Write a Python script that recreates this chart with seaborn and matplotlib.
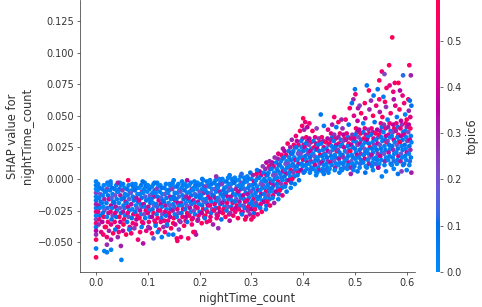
import numpy as np
import pandas as pd
import matplotlib
matplotlib.use("Agg")
import matplotlib.pyplot as plt
import seaborn as sns
from matplotlib.colors import LinearSegmentedColormap, Normalize
from matplotlib.cm import ScalarMappable

# ---------------- data ----------------
count_ticks = [0.0, 0.1, 0.2, 0.3, 0.4, 0.5, 0.6]
shap_ticks = [-0.05, -0.025, 0.0, 0.025, 0.05, 0.075, 0.1, 0.125]
topic_ticks = [0.0, 0.1, 0.2, 0.3, 0.4, 0.5]
topic_range = [0.0, 0.588]

# points sitting exactly at nightTime_count = 0
zero_count = [0, 0, 0, 0, 0, 0, 0, 0, 0, 0, 0, 0, 0, 0, 0, 0, 0, 0]
zero_shap = [-.002, -.005, -.008, -.011, -.014, -.017, -.020, -.023, -.026, -.029,
             -.032, -.035, -.038, -.041, -.044, -.048, -.055, -.062]
zero_topic = [.04, .06, .02, .25, .05, .08, .30, .06, .45, .03, .22, .50, .07, .35, .28, .55, .05, .57]

# flat negative band, 0 < x < 0.3
left_count = [
    .004, .007, .003, .008, .006, .009, .005, .007, .004, .008, .006, .005,
    .015, .012, .017, .013, .016, .011, .014, .016, .013, .015, .012, .017,
    .022, .024, .021, .019, .023, .025, .020, .022, .024, .021, .023, .019,
    .028, .031, .027, .032, .030, .033, .029, .031, .028, .032, .030, .029,
    .039, .036, .041, .037, .040, .035, .038, .040, .037, .039, .036, .041,
    .046, .048, .045, .043, .047, .049, .044, .046, .048, .045, .047, .043,
    .052, .055, .051, .056, .054, .057, .053, .055, .052, .056, .054, .053,
    .063, .060, .065, .061, .064, .059, .062, .064, .061, .063, .060, .065,
    .070, .072, .069, .067, .071, .073, .068, .070, .072, .069, .071, .067,
    .076, .079, .075, .080, .078, .081, .077, .079, .076, .080, .078, .077,
    .087, .084, .089, .085, .088, .083, .086, .088, .085, .087, .084, .089,
    .094, .096, .093, .091, .095, .097, .092, .094, .096, .093, .095, .091,
    .100, .103, .099, .104, .102, .105, .101, .103, .100, .104, .102, .101,
    .111, .108, .113, .109, .112, .107, .110, .112, .109, .111, .108, .113,
    .118, .120, .117, .115, .119, .121, .116, .118, .120, .117, .119, .115,
    .124, .127, .123, .128, .126, .129, .125, .127, .124, .128, .126, .125,
    .135, .132, .137, .133, .136, .131, .134, .136, .133, .135, .132, .137,
    .142, .144, .141, .139, .143, .145, .140, .142, .144, .141, .143, .139,
    .148, .151, .147, .152, .150, .153, .149, .151, .148, .152, .150, .149,
    .159, .156, .161, .157, .160, .155, .158, .160, .157, .159, .156, .161,
    .166, .168, .165, .163, .167, .169, .164, .166, .168, .165, .167, .163,
    .172, .175, .171, .176, .174, .177, .173, .175, .172, .176, .174, .173,
    .183, .180, .185, .181, .184, .179, .182, .184, .181, .183, .180, .185,
    .190, .192, .189, .187, .191, .193, .188, .190, .192, .189, .191, .187,
    .196, .199, .195, .200, .198, .201, .197, .199, .196, .200, .198, .197,
    .207, .204, .209, .205, .208, .203, .206, .208, .205, .207, .204, .209,
    .214, .216, .213, .211, .215, .217, .212, .214, .216, .213, .215, .211,
    .220, .223, .219, .224, .222, .225, .221, .223, .220, .224, .222, .221,
    .231, .228, .233, .229, .232, .227, .230, .232, .229, .231, .228, .233,
    .238, .240, .237, .235, .239, .241, .236, .238, .240, .237, .239, .235,
    .244, .247, .243, .248, .246, .249, .245, .247, .244, .248, .246, .245,
    .255, .252, .257, .253, .256, .251, .254, .256, .253, .255, .252, .257,
    .262, .264, .261, .259, .263, .265, .260, .262, .264, .261, .263, .259,
    .268, .271, .267, .272, .270, .273, .269, .271, .268, .272, .270, .269,
    .279, .276, .281, .277, .280, .275, .278, .280, .277, .279, .276, .281,
    .286, .288, .285, .283, .287, .289, .284, .286, .288, .285, .287, .283,
    .292, .295, .291, .296, .294, .297, .293, .295, .292, .296, .294, .293,
]
left_shap = [
    -.004, -.007, -.009, -.012, -.015, -.018, -.021, -.023, -.026, -.029, -.032, -.036,
    -.005, -.008, -.010, -.013, -.016, -.019, -.022, -.025, -.027, -.030, -.034, -.038,
    -.003, -.005, -.008, -.010, -.013, -.016, -.019, -.023, -.027, -.030, -.034, -.038,
    -.004, -.007, -.009, -.012, -.015, -.018, -.021, -.023, -.026, -.029, -.032, -.036,
    -.005, -.008, -.010, -.013, -.016, -.019, -.022, -.025, -.027, -.030, -.034, -.038,
    -.003, -.005, -.008, -.010, -.013, -.016, -.019, -.023, -.027, -.030, -.034, -.038,
    -.004, -.007, -.009, -.012, -.015, -.018, -.021, -.023, -.026, -.029, -.032, -.036,
    -.005, -.008, -.010, -.013, -.016, -.019, -.022, -.025, -.027, -.030, -.034, -.038,
    -.004, -.006, -.009, -.011, -.014, -.017, -.020, -.024, -.028, -.031, -.035, -.039,
    -.004, -.007, -.009, -.012, -.015, -.018, -.021, -.023, -.026, -.029, -.032, -.036,
    -.005, -.007, -.010, -.012, -.015, -.017, -.020, -.022, -.025, -.028, -.031, -.034,
    -.003, -.006, -.008, -.011, -.014, -.017, -.020, -.022, -.025, -.028, -.031, -.035,
    -.005, -.008, -.010, -.013, -.016, -.019, -.022, -.025, -.027, -.030, -.034, -.038,
    -.004, -.006, -.009, -.011, -.014, -.016, -.019, -.021, -.024, -.027, -.030, -.033,
    -.003, -.006, -.008, -.011, -.014, -.017, -.020, -.022, -.025, -.028, -.031, -.035,
    -.005, -.007, -.010, -.012, -.015, -.017, -.020, -.022, -.025, -.028, -.031, -.034,
    -.004, -.007, -.009, -.012, -.015, -.018, -.021, -.024, -.026, -.029, -.033, -.037,
    -.004, -.006, -.009, -.011, -.014, -.016, -.019, -.021, -.024, -.027, -.030, -.033,
    -.003, -.006, -.008, -.011, -.014, -.017, -.020, -.022, -.025, -.028, -.031, -.035,
    -.004, -.006, -.009, -.011, -.014, -.016, -.019, -.021, -.024, -.027, -.030, -.033,
    -.002, -.005, -.007, -.010, -.013, -.016, -.019, -.021, -.024, -.027, -.030, -.034,
    -.004, -.006, -.009, -.011, -.014, -.016, -.019, -.021, -.024, -.027, -.030, -.033,
    -.003, -.005, -.008, -.010, -.013, -.015, -.018, -.020, -.023, -.026, -.029, -.032,
    -.002, -.005, -.007, -.009, -.012, -.014, -.017, -.019, -.022, -.025, -.028, -.031,
    -.003, -.005, -.008, -.010, -.013, -.015, -.018, -.020, -.023, -.026, -.029, -.032,
    -.001, -.004, -.006, -.008, -.011, -.013, -.016, -.018, -.021, -.024, -.027, -.030,
    -.002, -.004, -.006, -.009, -.011, -.014, -.016, -.019, -.021, -.024, -.026, -.029,
    -.001, -.004, -.006, -.008, -.011, -.013, -.016, -.018, -.021, -.024, -.027, -.030,
    -.001, -.003, -.005, -.008, -.010, -.013, -.015, -.018, -.020, -.023, -.025, -.028,
    .000, -.003, -.005, -.007, -.010, -.012, -.015, -.017, -.020, -.023, -.026, -.029,
    .000, -.002, -.004, -.007, -.009, -.012, -.014, -.017, -.019, -.022, -.024, -.027,
    .001, -.002, -.004, -.006, -.009, -.011, -.014, -.016, -.019, -.022, -.025, -.028,
    .000, -.002, -.004, -.007, -.009, -.012, -.014, -.017, -.019, -.022, -.024, -.027,
    .001, -.001, -.003, -.006, -.008, -.011, -.013, -.016, -.018, -.021, -.023, -.026,
    .002, -.001, -.003, -.005, -.008, -.010, -.013, -.015, -.018, -.021, -.024, -.027,
    .001, -.001, -.003, -.006, -.008, -.011, -.013, -.016, -.018, -.021, -.023, -.026,
    .002, .000, -.002, -.005, -.007, -.010, -.012, -.015, -.017, -.020, -.022, -.025,
]
left_topic = [
    .05, .08, .03, .20, .06, .10, .32, .04, .45, .09, .50, .28,
    .03, .06, .11, .04, .30, .07, .02, .18, .09, .55, .35, .47,
    .07, .02, .25, .05, .09, .42, .06, .12, .33, .04, .52, .58,
    .04, .10, .06, .03, .15, .08, .38, .05, .48, .22, .07, .44,
    .05, .08, .03, .20, .06, .10, .32, .04, .45, .09, .50, .28,
    .03, .06, .11, .04, .30, .07, .02, .18, .09, .55, .35, .47,
    .07, .02, .25, .05, .09, .42, .06, .12, .33, .04, .52, .58,
    .04, .10, .06, .03, .15, .08, .38, .05, .48, .22, .07, .44,
    .05, .08, .03, .20, .06, .10, .32, .04, .45, .09, .50, .28,
    .03, .06, .11, .04, .30, .07, .02, .18, .09, .55, .35, .47,
    .07, .02, .25, .05, .09, .42, .06, .12, .33, .04, .52, .58,
    .04, .10, .06, .03, .15, .08, .38, .05, .48, .22, .07, .44,
    .05, .08, .03, .20, .06, .10, .32, .04, .45, .09, .50, .28,
    .03, .06, .11, .04, .30, .07, .02, .18, .09, .55, .35, .47,
    .07, .02, .25, .05, .09, .42, .06, .12, .33, .04, .52, .58,
    .04, .10, .06, .03, .15, .08, .38, .05, .48, .22, .07, .44,
    .05, .08, .03, .20, .06, .10, .32, .04, .45, .09, .50, .28,
    .03, .06, .11, .04, .30, .07, .02, .18, .09, .55, .35, .47,
    .07, .02, .25, .05, .09, .42, .06, .12, .33, .04, .52, .58,
    .04, .10, .06, .03, .15, .08, .38, .05, .48, .22, .07, .44,
    .05, .08, .03, .20, .06, .10, .32, .04, .45, .09, .50, .28,
    .03, .06, .11, .04, .30, .07, .02, .18, .09, .55, .35, .47,
    .07, .02, .25, .05, .09, .42, .06, .12, .33, .04, .52, .58,
    .04, .10, .06, .03, .15, .08, .38, .05, .48, .22, .07, .44,
    .05, .08, .03, .20, .06, .10, .32, .04, .45, .09, .50, .28,
    .03, .06, .11, .04, .30, .07, .02, .18, .09, .55, .35, .47,
    .07, .02, .25, .05, .09, .42, .06, .12, .33, .04, .52, .58,
    .04, .10, .06, .03, .15, .08, .38, .05, .48, .22, .07, .44,
    .05, .08, .03, .20, .06, .10, .32, .04, .45, .09, .50, .28,
    .03, .06, .11, .04, .30, .07, .02, .18, .09, .55, .35, .47,
    .07, .02, .25, .05, .09, .42, .06, .12, .33, .04, .52, .58,
    .04, .10, .06, .03, .15, .08, .38, .05, .48, .22, .07, .44,
    .05, .08, .03, .20, .06, .10, .32, .04, .45, .09, .50, .28,
    .03, .06, .11, .04, .30, .07, .02, .18, .09, .55, .35, .47,
    .07, .02, .25, .05, .09, .42, .06, .12, .33, .04, .52, .58,
    .04, .10, .06, .03, .15, .08, .38, .05, .48, .22, .07, .44,
    .05, .08, .03, .20, .06, .10, .32, .04, .45, .09, .50, .28,
]

# scattered points around the flat band
left_stray_count = [
    .010, .014, .025, .033, .037, .044, .052, .058, .064, .068,
    .074, .085, .088, .097, .104, .108, .115, .122, .130, .137,
    .145, .153, .160, .170, .176, .185, .196, .204, .210, .220,
    .226, .233, .242, .250, .258, .265, .274, .282, .290, .297,
    .016, .021, .029, .021, .048, .049, .091, .081, .111, .127,
    .140, .149, .156, .157, .164, .178, .191, .193, .214, .236,
    .288, .300, .188, .029, .021, .042, .119, .133, .062, .042,
    .113, .028, .090, .150, .176, .205, .232, .258, .281, .298,
]
left_stray_shap = [
    -.042, -.044, -.041, -.043, -.040, -.042, -.041, -.044, -.040, -.043,
    -.039, -.042, -.038, -.041, -.039, -.043, -.037, -.040, -.038, -.036,
    -.039, -.036, -.040, -.037, -.034, -.036, -.033, -.035, -.031, -.033,
    -.036, -.031, -.032, -.030, -.033, -.029, -.031, -.028, -.030, -.028,
    -.057, -.058, -.056, -.052, -.053, -.064, -.051, -.048, -.047, -.046,
    -.044, -.044, -.047, -.049, -.046, -.047, -.042, -.044, -.034, -.039,
    -.032, -.032, -.042, -.048, -.046, -.046, -.042, -.042, -.001, -.003,
    -.003, -.002, -.002, -.001, -.001, .000, .002, .003, .004, .005,
]
left_stray_topic = [
    .45, .52, .30, .55, .08, .48, .35, .57, .06, .50,
    .26, .53, .05, .46, .31, .56, .07, .50, .28, .05,
    .54, .40, .22, .55, .09, .49, .32, .56, .06, .51,
    .30, .47, .10, .55, .34, .50, .58, .07, .44, .29,
    .05, .06, .04, .28, .30, .05, .33, .50, .15, .06,
    .04, .08, .55, .52, .48, .54, .30, .33, .50, .28,
    .55, .52, .56, .32, .50, .30, .06, .50, .55, .30,
    .08, .06, .10, .05, .33, .07, .28, .06, .12, .09,
]

# steep rise, 0.3 < x < 0.4
rise_count = [
    .303, .300, .305, .301, .304, .299, .302, .304, .301, .303, .300, .305,
    .310, .312, .309, .307, .311, .313, .308, .310, .312, .309, .311, .307,
    .316, .319, .315, .320, .318, .321, .317, .319, .316, .320, .318, .317,
    .327, .324, .329, .325, .328, .323, .326, .328, .325, .327, .324, .329,
    .334, .336, .333, .331, .335, .337, .332, .334, .336, .333, .335, .331,
    .340, .343, .339, .344, .342, .345, .341, .343, .340, .344, .342, .341,
    .351, .348, .353, .349, .352, .347, .350, .352, .349, .351, .348, .353,
    .358, .360, .357, .355, .359, .361, .356, .358, .360, .357, .359, .355,
    .364, .367, .363, .368, .366, .369, .365, .367, .364, .368, .366, .365,
    .375, .372, .377, .373, .376, .371, .374, .376, .373, .375, .372, .377,
    .382, .384, .381, .379, .383, .385, .380, .382, .384, .381, .383, .379,
    .388, .391, .387, .392, .390, .393, .389, .391, .388, .392, .390, .389,
    .399, .396, .401, .397, .400, .395, .398, .400, .397, .399, .396, .401,
]
rise_shap = [
    .003, .000, -.002, -.005, -.008, -.010, -.013, -.016, -.018, -.021, -.024, -.027,
    .004, .001, -.001, -.004, -.006, -.009, -.011, -.014, -.016, -.019, -.021, -.024,
    .006, .003, .001, -.002, -.004, -.007, -.009, -.012, -.014, -.017, -.020, -.023,
    .008, .005, .003, .000, -.002, -.005, -.007, -.010, -.012, -.015, -.018, -.021,
    .010, .008, .005, .003, .000, -.003, -.005, -.008, -.010, -.013, -.016, -.018,
    .013, .010, .008, .005, .003, .000, -.002, -.005, -.007, -.010, -.013, -.015,
    .016, .013, .011, .008, .006, .003, .001, -.002, -.004, -.007, -.010, -.012,
    .019, .016, .014, .011, .009, .006, .004, .001, -.001, -.004, -.007, -.009,
    .022, .019, .017, .014, .012, .009, .007, .004, .002, -.001, -.004, -.006,
    .025, .022, .020, .017, .015, .012, .010, .007, .005, .002, -.001, -.003,
    .027, .025, .022, .020, .017, .015, .012, .010, .007, .005, .002, .000,
    .030, .027, .025, .022, .020, .017, .015, .012, .010, .007, .005, .003,
    .032, .030, .027, .025, .022, .020, .017, .015, .012, .010, .007, .005,
]
rise_topic = [
    .30, .06, .45, .04, .08, .22, .03, .50, .07, .05, .35, .10,
    .52, .28, .05, .09, .03, .40, .06, .12, .04, .25, .07, .55,
    .36, .47, .08, .03, .20, .06, .05, .33, .09, .02, .48, .06,
    .30, .06, .45, .04, .08, .22, .03, .50, .07, .05, .35, .10,
    .52, .28, .05, .09, .03, .40, .06, .12, .04, .25, .07, .55,
    .36, .47, .08, .03, .20, .06, .05, .33, .09, .02, .48, .06,
    .30, .06, .45, .04, .08, .22, .03, .50, .07, .05, .35, .10,
    .52, .28, .05, .09, .03, .40, .06, .12, .04, .25, .07, .55,
    .36, .47, .08, .03, .20, .06, .05, .33, .09, .02, .48, .06,
    .30, .06, .45, .04, .08, .22, .03, .50, .07, .05, .35, .10,
    .52, .28, .05, .09, .03, .40, .06, .12, .04, .25, .07, .55,
    .36, .47, .08, .03, .20, .06, .05, .33, .09, .02, .48, .06,
    .30, .06, .45, .04, .08, .22, .03, .50, .07, .05, .35, .10,
]
rise_stray_count = [
    .311, .322, .329, .335, .345, .352, .361, .370, .378, .386,
    .394, .398, .339, .312, .320, .328, .336, .344, .352, .360,
    .368, .376, .384, .392, .304,
]
rise_stray_shap = [
    .007, .010, .013, .014, .017, .020, .024, .028, .031, .034,
    .038, .042, .012, -.028, -.026, -.024, -.021, -.019, -.016, -.013,
    -.010, -.007, -.004, -.001, -.030,
]
rise_stray_topic = [
    .08, .25, .35, .30, .28, .45, .33, .52, .30, .48,
    .55, .50, .32, .47, .55, .06, .50, .30, .05, .45,
    .08, .04, .06, .10, .52,
]

# positive band, x > 0.4
right_count = [
    .406, .408, .405, .403, .407, .409, .404, .406, .408, .405, .407, .403,
    .412, .415, .411, .416, .414, .417, .413, .415, .412, .416, .414, .413,
    .423, .420, .425, .421, .424, .419, .422, .424, .421, .423, .420, .425,
    .430, .432, .429, .427, .431, .433, .428, .430, .432, .429, .431, .427,
    .436, .439, .435, .440, .438, .441, .437, .439, .436, .440, .438, .437,
    .447, .444, .449, .445, .448, .443, .446, .448, .445, .447, .444, .449,
    .454, .456, .453, .451, .455, .457, .452, .454, .456, .453, .455, .451,
    .460, .463, .459, .464, .462, .465, .461, .463, .460, .464, .462, .461,
    .471, .468, .473, .469, .472, .467, .470, .472, .469, .471, .468, .473,
    .478, .480, .477, .475, .479, .481, .476, .478, .480, .477, .479, .475,
    .484, .487, .483, .488, .486, .489, .485, .487, .484, .488, .486, .485,
    .495, .492, .497, .493, .496, .491, .494, .496, .493, .495, .492, .497,
    .502, .504, .501, .499, .503, .505, .500, .502, .504, .501, .503, .499,
    .508, .511, .507, .512, .510, .513, .509, .511, .508, .512, .510, .509,
    .519, .516, .521, .517, .520, .515, .518, .520, .517, .519, .516, .521,
    .526, .528, .525, .523, .527, .529, .524, .526, .528, .525, .527, .523,
    .532, .535, .531, .536, .534, .537, .533, .535, .532, .536, .534, .533,
    .543, .540, .545, .541, .544, .539, .542, .544, .541, .543, .540, .545,
    .550, .552, .549, .547, .551, .553, .548, .550, .552, .549, .551, .547,
    .556, .559, .555, .560, .558, .561, .557, .559, .556, .560, .558, .557,
    .567, .564, .569, .565, .568, .563, .566, .568, .565, .567, .564, .569,
    .574, .576, .573, .571, .575, .577, .572, .574, .576, .573, .575, .571,
    .580, .583, .579, .584, .582, .585, .581, .583, .580, .584, .582, .581,
    .591, .588, .593, .589, .592, .587, .590, .592, .589, .591, .588, .593,
    .598, .600, .597, .595, .599, .601, .596, .598, .600, .597, .599, .595,
    .604, .607, .603, .608, .606, .609, .605, .607, .604, .608, .606, .605,
]
right_shap = [
    .033, .030, .028, .025, .023, .020, .018, .015, .013, .011, .008, .006,
    .032, .029, .027, .024, .022, .019, .017, .014, .012, .009, .007, .005,
    .033, .030, .028, .025, .023, .020, .018, .015, .013, .011, .008, .006,
    .032, .029, .027, .024, .022, .019, .017, .014, .012, .009, .007, .005,
    .033, .030, .028, .025, .023, .020, .018, .015, .013, .011, .008, .006,
    .032, .029, .027, .024, .022, .019, .017, .014, .012, .009, .007, .005,
    .036, .033, .031, .028, .026, .023, .021, .018, .016, .013, .011, .008,
    .035, .032, .030, .027, .025, .022, .019, .017, .014, .012, .009, .007,
    .036, .033, .031, .028, .026, .023, .021, .018, .016, .013, .011, .008,
    .035, .032, .030, .027, .025, .022, .019, .017, .014, .012, .009, .007,
    .036, .033, .031, .028, .026, .023, .021, .018, .016, .013, .011, .008,
    .035, .032, .030, .027, .025, .022, .019, .017, .014, .012, .009, .007,
    .040, .037, .035, .032, .029, .027, .024, .021, .019, .016, .013, .010,
    .039, .036, .033, .031, .028, .025, .023, .020, .017, .015, .012, .009,
    .040, .037, .035, .032, .029, .027, .024, .021, .019, .016, .013, .010,
    .039, .036, .033, .031, .028, .025, .023, .020, .017, .015, .012, .009,
    .040, .037, .035, .032, .029, .027, .024, .021, .019, .016, .013, .010,
    .039, .036, .033, .031, .028, .025, .023, .020, .017, .015, .012, .009,
    .044, .041, .038, .035, .033, .030, .027, .024, .021, .018, .015, .012,
    .043, .040, .037, .034, .031, .029, .026, .023, .020, .017, .014, .011,
    .044, .041, .038, .035, .033, .030, .027, .024, .021, .018, .015, .012,
    .043, .040, .037, .034, .031, .029, .026, .023, .020, .017, .014, .011,
    .044, .041, .038, .035, .033, .030, .027, .024, .021, .018, .015, .012,
    .043, .040, .037, .034, .031, .029, .026, .023, .020, .017, .014, .011,
    .044, .041, .038, .035, .033, .030, .027, .024, .021, .018, .015, .012,
    .043, .040, .037, .034, .031, .029, .026, .023, .020, .017, .014, .011,
]
right_topic = [
    .50, .30, .07, .42, .05, .25, .09, .04, .33, .06, .03, .08,
    .35, .55, .22, .06, .38, .04, .10, .28, .05, .07, .12, .04,
    .45, .08, .32, .52, .06, .03, .20, .09, .05, .40, .06, .02,
    .27, .48, .05, .36, .09, .58, .04, .07, .18, .03, .30, .05,
    .50, .30, .07, .42, .05, .25, .09, .04, .33, .06, .03, .08,
    .35, .55, .22, .06, .38, .04, .10, .28, .05, .07, .12, .04,
    .45, .08, .32, .52, .06, .03, .20, .09, .05, .40, .06, .02,
    .27, .48, .05, .36, .09, .58, .04, .07, .18, .03, .30, .05,
    .50, .30, .07, .42, .05, .25, .09, .04, .33, .06, .03, .08,
    .35, .55, .22, .06, .38, .04, .10, .28, .05, .07, .12, .04,
    .45, .08, .32, .52, .06, .03, .20, .09, .05, .40, .06, .02,
    .27, .48, .05, .36, .09, .58, .04, .07, .18, .03, .30, .05,
    .50, .30, .07, .42, .05, .25, .09, .04, .33, .06, .03, .08,
    .35, .55, .22, .06, .38, .04, .10, .28, .05, .07, .12, .04,
    .45, .08, .32, .52, .06, .03, .20, .09, .05, .40, .06, .02,
    .27, .48, .05, .36, .09, .58, .04, .07, .18, .03, .30, .05,
    .50, .30, .07, .42, .05, .25, .09, .04, .33, .06, .03, .08,
    .35, .55, .22, .06, .38, .04, .10, .28, .05, .07, .12, .04,
    .45, .08, .32, .52, .06, .03, .20, .09, .05, .40, .06, .02,
    .27, .48, .05, .36, .09, .58, .04, .07, .18, .03, .30, .05,
    .50, .30, .07, .42, .05, .25, .09, .04, .33, .06, .03, .08,
    .35, .55, .22, .06, .38, .04, .10, .28, .05, .07, .12, .04,
    .45, .08, .32, .52, .06, .03, .20, .09, .05, .40, .06, .02,
    .27, .48, .05, .36, .09, .58, .04, .07, .18, .03, .30, .05,
    .50, .30, .07, .42, .05, .25, .09, .04, .33, .06, .03, .08,
    .35, .55, .22, .06, .38, .04, .10, .28, .05, .07, .12, .04,
]

# scattered high / low points for x > 0.4
right_stray_count = [
    .572, .566, .605, .552, .557, .547, .577, .593, .608, .523,
    .527, .544, .561, .567, .584, .500, .501, .497, .494, .490,
    .506, .531, .547, .555, .574, .587, .603, .606, .434, .460,
    .400, .474, .404, .408, .412, .402, .418, .426, .440, .448,
    .456, .464, .468, .476, .482, .488, .498, .505, .512, .516,
    .520, .528, .535, .538, .541, .548, .553, .560, .563, .569,
    .578, .581, .586, .589, .595, .597, .600, .604, .607, .609,
    .592, .575, .558, .536, .519, .509, .552, .492, .609, .425,
    .440, .470, .505, .520, .535, .560, .575, .590, .600, .583, .545,
]
right_stray_shap = [
    .112, .090, .090, .085, .083, .078, .076, .082, .082, .074,
    .070, .071, .072, .074, .076, .071, .067, .063, .060, .056,
    .056, .062, .063, .065, .069, .070, .063, .062, .051, .049,
    .048, .047, .045, .041, .044, .039, .038, .040, .042, .039,
    .043, .041, .045, .040, .047, .043, .050, .046, .052, .044,
    .048, .055, .050, .045, .058, .053, .049, .057, .047, .052,
    .058, .049, .055, .046, .060, .051, .047, .054, .049, .058,
    .066, .063, .061, .066, .060, .058, .002, .004, .005, .003,
    .004, .005, .006, .005, .007, .006, .008, .006, .007, .004, .009,
]
right_stray_topic = [
    .57, .55, .52, .50, .22, .54, .49, .12, .30, .08,
    .56, .10, .53, .45, .58, .07, .50, .30, .09, .55,
    .33, .28, .52, .06, .48, .35, .55, .10, .08, .50,
    .56, .30, .48, .35, .52, .30, .55, .25, .06, .45,
    .32, .07, .53, .28, .50, .10, .44, .36, .56, .05,
    .40, .30, .57, .09, .48, .32, .55, .27, .06, .51,
    .44, .08, .53, .35, .50, .05, .57, .29, .45, .11,
    .47, .33, .54, .07, .52, .26, .05, .30, .32, .04,
    .07, .05, .08, .10, .04, .06, .03, .25, .05, .09, .35,
]

groups = {
    "zero": (zero_count, zero_shap, zero_topic),
    "left": (left_count, left_shap, left_topic),
    "left_stray": (left_stray_count, left_stray_shap, left_stray_topic),
    "rise": (rise_count, rise_shap, rise_topic),
    "rise_stray": (rise_stray_count, rise_stray_shap, rise_stray_topic),
    "right": (right_count, right_shap, right_topic),
    "right_stray": (right_stray_count, right_stray_shap, right_stray_topic),
}
for name, (gx, gy, gc) in groups.items():
    if not (len(gx) == len(gy) == len(gc)):
        raise ValueError(f"{name}: {len(gx)} {len(gy)} {len(gc)}")

night_count = sum((g[0] for g in groups.values()), [])
shap_value = sum((g[1] for g in groups.values()), [])
topic6 = sum((g[2] for g in groups.values()), [])

# ---------------- SHAP red_blue colormap (LCH interpolation) ----------------
def lch_to_srgb(l, c, h):
    a, b = c * np.cos(h), c * np.sin(h)
    fy = (l + 16) / 116
    f = np.array([fy + a / 500, fy, fy - b / 200])
    xyz = np.where(f ** 3 > 0.008856, f ** 3, (f - 16 / 116) / 7.787) * np.array([0.95047, 1.0, 1.08883])
    m = np.array([[3.2406, -1.5372, -0.4986],
                  [-0.9689, 1.8758, 0.0415],
                  [0.0557, -0.2040, 1.0570]])
    lin = m @ xyz
    srgb = np.where(lin > 0.0031308, 1.055 * np.clip(lin, 1e-12, None) ** (1 / 2.4) - 0.055, 12.92 * lin)
    return np.clip(srgb, 0, 1)

nsteps = 100
l_vals = np.r_[np.linspace(54, 40, nsteps // 2), np.linspace(40, 54, nsteps // 2)]
c_vals = np.linspace(70, 90, nsteps)
h_vals = np.linspace(4.6588, 0.35470565 + 2 * np.pi, nsteps)
cmap = LinearSegmentedColormap.from_list(
    "red_blue", [lch_to_srgb(l, c, h) for l, c, h in zip(l_vals, c_vals, h_vals)])

# ---------------- plot ----------------
sns.set_theme(style="ticks")
plt.rcParams["font.family"] = ["DejaVu Sans"]
axis_color = "#333333"

DPI = 64
fig = plt.figure(figsize=(482 / DPI, 307 / DPI), dpi=DPI)
ax = fig.add_axes([80 / 482, 35 / 307, 335 / 482, 272 / 307])
cax = fig.add_axes([436 / 482, 35 / 307, 4 / 482, 272 / 307])

df = pd.DataFrame({"nightTime_count": night_count, "shap": shap_value, "topic6": topic6})
norm = Normalize(vmin=topic_range[0], vmax=topic_range[1])
sns.scatterplot(data=df, x="nightTime_count", y="shap", hue="topic6", palette=cmap,
                hue_norm=norm, s=28, linewidth=0, legend=False, ax=ax)

ax.set_xlim(-0.031, 0.616)
ax.set_ylim(-0.0736, 0.1416)
ax.set_xticks(count_ticks)
ax.set_yticks(shap_ticks)
ax.spines["top"].set_visible(False)
ax.spines["right"].set_visible(False)
for s in ("left", "bottom"):
    ax.spines[s].set_color(axis_color)
    ax.spines[s].set_linewidth(0.8)
ax.tick_params(color=axis_color, labelcolor=axis_color, labelsize=11, length=3.5, width=0.8)
ax.set_xlabel("nightTime_count", fontsize=13, color=axis_color)
ax.set_ylabel("SHAP value for\nnightTime_count", fontsize=13, color=axis_color)

cb = fig.colorbar(ScalarMappable(norm=norm, cmap=cmap), cax=cax, ticks=topic_ticks)
cb.outline.set_visible(False)
cb.ax.tick_params(labelsize=11, length=3.5, width=0.8, color=axis_color, labelcolor=axis_color)
cb.set_label("topic6", size=13, color=axis_color)

fig.savefig("out.png", dpi=DPI)
